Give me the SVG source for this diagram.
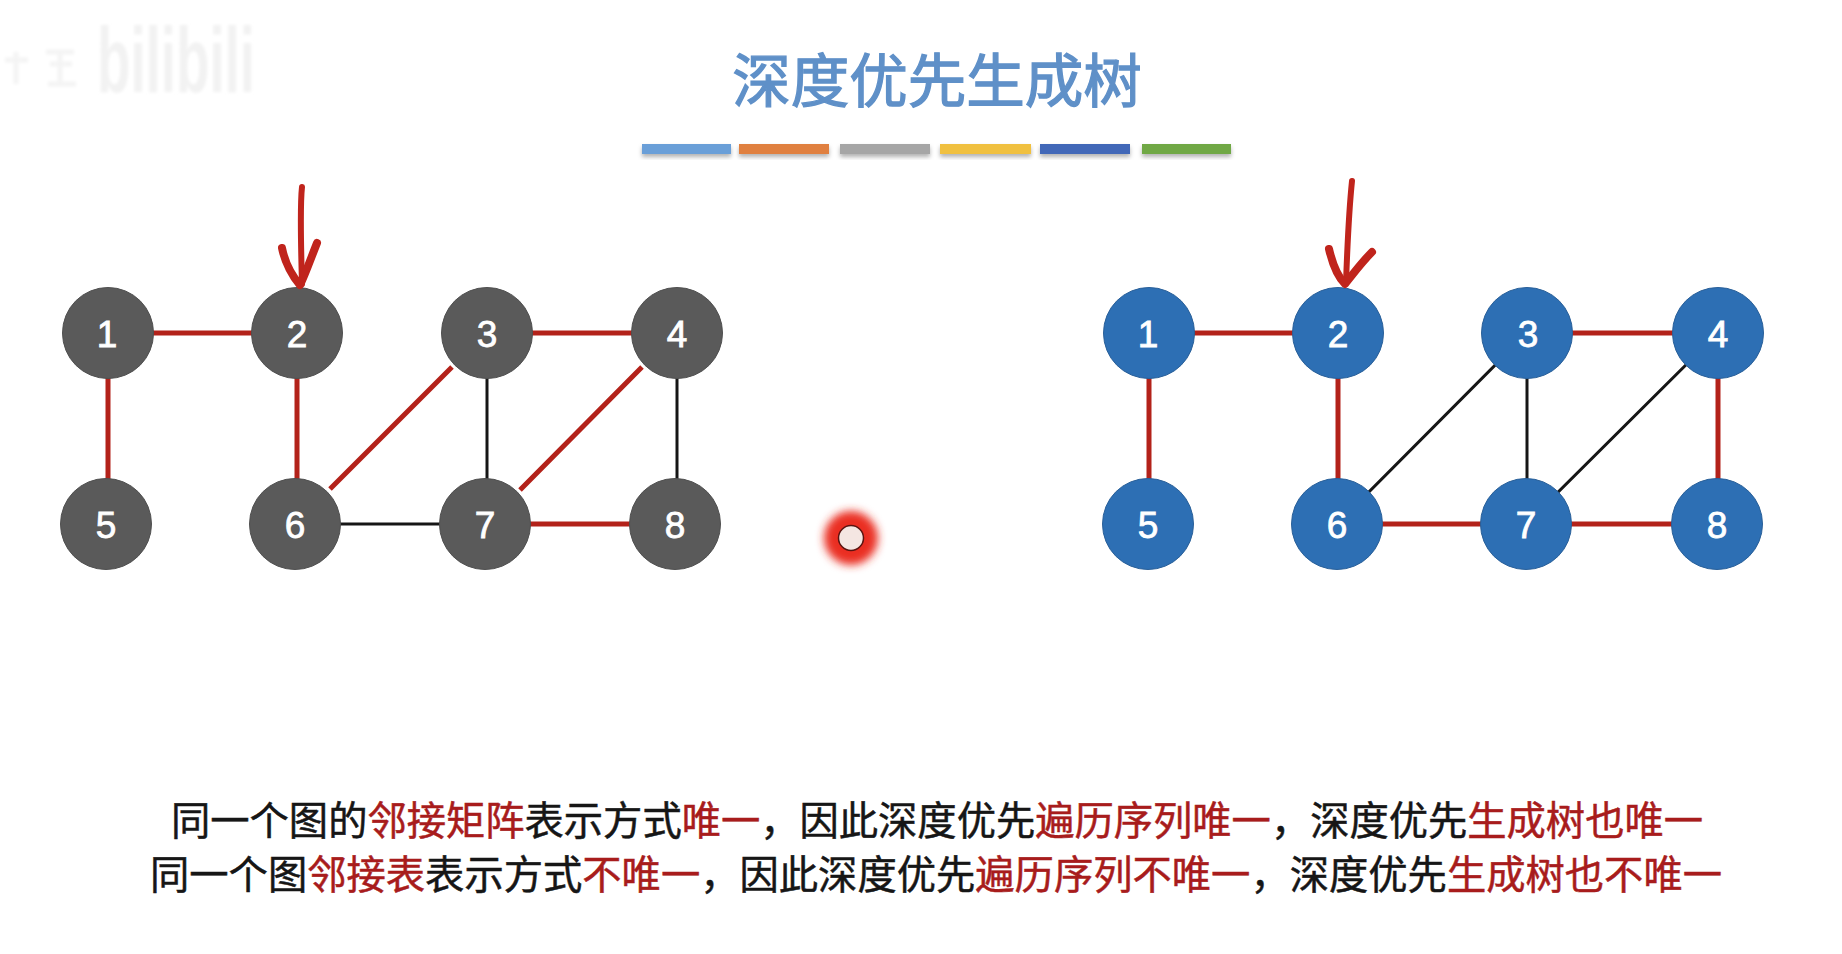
<svg xmlns="http://www.w3.org/2000/svg" width="1842" height="954" viewBox="0 0 1842 954">
<style>
.cjk{font-family:"Noto Sans CJK SC","Liberation Sans",sans-serif}
.body{font-size:39.3px;fill:#161616;stroke:#161616;stroke-width:.5}
.r{fill:#a81c1c;stroke:#a81c1c}
.n{font-family:"Liberation Sans",Arial,sans-serif;font-size:37px;fill:#fff;stroke:#fff;stroke-width:.8;text-anchor:middle}
.g{fill:#5a5a5a;stroke:#505050;stroke-width:1}
.b{fill:#2d6fb4;stroke:#2a6099;stroke-width:1}
.red{stroke:#b3221a;stroke-width:5;fill:none}
.blk{stroke:#161616;stroke-width:3;fill:none}
.pen{stroke:#c0241c;fill:none;stroke-linecap:round;stroke-linejoin:round}
</style>
<defs>
<filter id="sh" x="-5%" y="-40%" width="110%" height="200%"><feDropShadow dx="0" dy="3" stdDeviation="2" flood-color="#000" flood-opacity=".3"/></filter>
<filter id="glow" x="-50%" y="-50%" width="200%" height="200%"><feGaussianBlur stdDeviation="4"/></filter>
<filter id="wm" x="-10%" y="-10%" width="120%" height="120%"><feGaussianBlur stdDeviation="1.5"/></filter>
</defs>
<rect width="1842" height="954" fill="#fff"/>
<g id="watermark" filter="url(#wm)">
<text x="97" y="92" font-family="Liberation Sans,sans-serif" font-weight="700" font-size="92" fill="#f2f2f2" textLength="158" lengthAdjust="spacingAndGlyphs">bilibili</text>
<path d="M5 60H28M16 52V84M46 52H74M50 64H72M48 84H76M60 52V84" stroke="#f4f4f4" stroke-width="5" fill="none"/>
</g>
<text id="title" class="cjk" x="937" y="102" font-size="58.5" fill="#5f90c8" stroke="#5f90c8" stroke-width="1.3" text-anchor="middle">深度优先生成树</text>
<g id="bars" filter="url(#sh)">
<rect x="642" y="144" width="89" height="10" fill="#6a9fd8"/>
<rect x="739" y="144" width="90" height="10" fill="#e0803f"/>
<rect x="840" y="144" width="90" height="10" fill="#a6a6a6"/>
<rect x="940" y="144" width="91" height="10" fill="#f0c040"/>
<rect x="1040" y="144" width="90" height="10" fill="#4268b8"/>
<rect x="1142" y="144" width="89" height="10" fill="#70a845"/>
</g>
<g id="connectors">
<path class="red" d="M108 333H297M108 333V524M297 333V524M487 333H677M485 524H675M452 367L330 489M642 367L520 490"/>
<path class="blk" d="M487 333V524M677 333V524M295 524H485"/>
<path class="red" d="M1149 333H1338M1149 333V524M1338 333V524M1527 333H1718M1718 333V524M1337 524H1717"/>
<path class="blk" d="M1527 333L1337 524M1527 333V524M1718 333L1526 524"/>
</g>
<g id="L1"><circle class="g" cx="108" cy="333" r="45.5"/><text class="n" x="107" y="347">1</text></g>
<g id="L2"><circle class="g" cx="297" cy="333" r="45.5"/><text class="n" x="297" y="347">2</text></g>
<g id="L3"><circle class="g" cx="487" cy="333" r="45.5"/><text class="n" x="487" y="347">3</text></g>
<g id="L4"><circle class="g" cx="677" cy="333" r="45.5"/><text class="n" x="677" y="347">4</text></g>
<g id="L5"><circle class="g" cx="106" cy="524" r="45.5"/><text class="n" x="106" y="538">5</text></g>
<g id="L6"><circle class="g" cx="295" cy="524" r="45.5"/><text class="n" x="295" y="538">6</text></g>
<g id="L7"><circle class="g" cx="485" cy="524" r="45.5"/><text class="n" x="485" y="538">7</text></g>
<g id="L8"><circle class="g" cx="675" cy="524" r="45.5"/><text class="n" x="675" y="538">8</text></g>
<g id="R1"><circle class="b" cx="1149" cy="333" r="45.5"/><text class="n" x="1148" y="347">1</text></g>
<g id="R2"><circle class="b" cx="1338" cy="333" r="45.5"/><text class="n" x="1338" y="347">2</text></g>
<g id="R3"><circle class="b" cx="1527" cy="333" r="45.5"/><text class="n" x="1528" y="347">3</text></g>
<g id="R4"><circle class="b" cx="1718" cy="333" r="45.5"/><text class="n" x="1718" y="347">4</text></g>
<g id="R5"><circle class="b" cx="1148" cy="524" r="45.5"/><text class="n" x="1148" y="538">5</text></g>
<g id="R6"><circle class="b" cx="1337" cy="524" r="45.5"/><text class="n" x="1337" y="538">6</text></g>
<g id="R7"><circle class="b" cx="1526" cy="524" r="45.5"/><text class="n" x="1526" y="538">7</text></g>
<g id="R8"><circle class="b" cx="1717" cy="524" r="45.5"/><text class="n" x="1717" y="538">8</text></g>
<g id="arrow-left">
<path class="pen" stroke-width="6" d="M302 187C300 205 301 250 302 284"/>
<path class="pen" stroke-width="8" d="M282 248C285 263 293 277 300 285C305 275 311 258 317 243"/>
</g>
<g id="arrow-right">
<path class="pen" stroke-width="6" d="M1352 181C1349 210 1347 255 1346 283"/>
<path class="pen" stroke-width="8" d="M1329 249C1333 266 1339 278 1345 284C1353 274 1362 262 1372 252"/>
</g>
<g id="cursor">
<circle cx="851" cy="538" r="27" fill="#ea2f22" filter="url(#glow)"/>
<circle cx="851" cy="538" r="12.5" fill="#f4e6e2" stroke="#5a1410" stroke-width="1.5"/>
</g>
<text id="line1" class="cjk body" x="171" y="835" textLength="1532">同一个图的<tspan class="r">邻接矩阵</tspan>表示方式<tspan class="r">唯一</tspan>，因此深度优先<tspan class="r">遍历序列唯一</tspan>，深度优先<tspan class="r">生成树也唯一</tspan></text>
<text id="line2" class="cjk body" x="150" y="889" textLength="1572">同一个图<tspan class="r">邻接表</tspan>表示方式<tspan class="r">不唯一</tspan>，因此深度优先<tspan class="r">遍历序列不唯一</tspan>，深度优先<tspan class="r">生成树也不唯一</tspan></text>
</svg>
